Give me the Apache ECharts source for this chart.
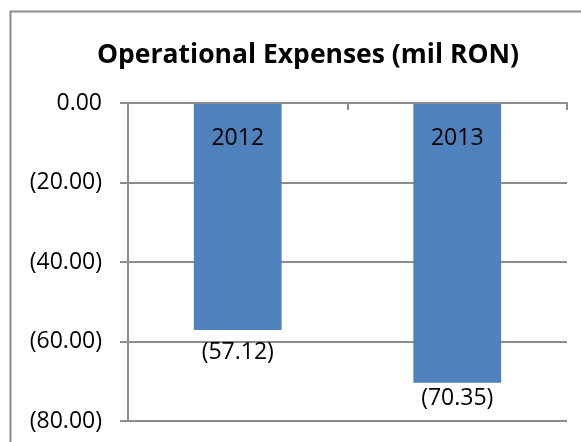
<!DOCTYPE html>
<html>
<head>
<meta charset="utf-8">
<script src="https://cdn.jsdelivr.net/npm/echarts@6/dist/echarts.min.js"></script>
<style>html,body{margin:0;padding:0;background:#fff;}#c{width:581px;height:442px;}</style>
</head>
<body>
<div id="c"></div>
<script>
const titleText = 'Operational Expenses (mil RON)';
const categories = ['2012', '2013'];
const values = [-57.12, -70.35];
const yMin = -80, yMax = 0, yStep = 20;

// label distance below each bar's end (style only)
const labelGap = [11, 4];

const fmt = v => v === 0 ? '0.00' : (v < 0 ? '(' + Math.abs(v).toFixed(2) + ')' : v.toFixed(2));
const FONT = 'Open Sans';
const chart = echarts.init(document.getElementById('c'), null, {renderer: 'canvas'});
chart.setOption({
  animation: false,
  backgroundColor: '#fff',
  title: {
    text: titleText, left: 303, top: 37, textAlign: 'center',
    textStyle: {fontFamily: FONT, fontWeight: 'bold', fontSize: 26.5, color: '#000'}
  },
  graphic: [{
    type: 'rect', left: 8, top: 9, silent: true,
    shape: {width: 620, height: 480},
    style: {fill: 'none', stroke: '#8c8c8c', lineWidth: 2}
  }],
  grid: {left: 128, right: 14, top: 103, bottom: 21, containLabel: false},
  xAxis: {
    type: 'category', data: categories, position: 'top', z: 10,
    axisLine: {show: true, onZero: true, lineStyle: {color: '#8c8c8c', width: 2}},
    axisTick: {show: true, inside: true, length: 7, alignWithLabel: false, lineStyle: {color: '#8c8c8c', width: 2}},
    axisLabel: {inside: true, margin: 24, fontFamily: FONT, fontSize: 23, color: '#000'},
    splitLine: {show: false}
  },
  yAxis: {
    type: 'value', min: yMin, max: yMax, interval: yStep,
    axisLine: {show: true, lineStyle: {color: '#8c8c8c', width: 2}},
    axisTick: {show: true, length: 8, lineStyle: {color: '#8c8c8c', width: 2}},
    axisLabel: {formatter: fmt, margin: 26, fontFamily: FONT, fontSize: 23, color: '#000'},
    splitLine: {show: true, lineStyle: {color: '#8c8c8c', width: 2}}
  },
  series: [{
    type: 'bar', barWidth: '40%', z: 2,
    itemStyle: {color: '#4F81BD'},
    data: values.map((v, i) => ({
      value: v,
      label: {show: true, position: 'outside', distance: labelGap[i],
        formatter: p => fmt(p.value), fontFamily: FONT, fontSize: 23, color: '#000'}
    }))
  }]
});
</script>
</body>
</html>
